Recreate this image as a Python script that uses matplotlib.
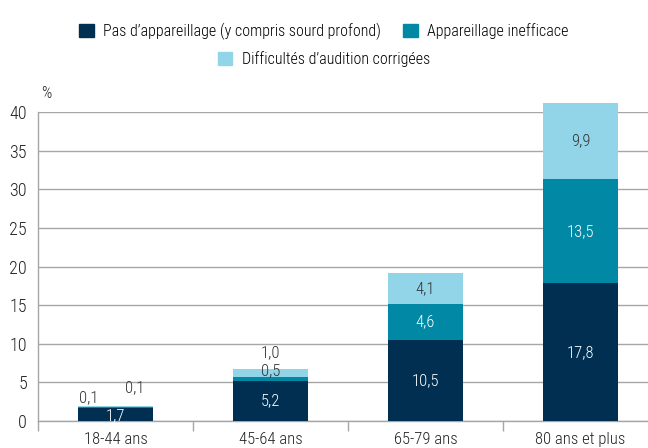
import numpy as np
import matplotlib.pyplot as plt
from matplotlib.patches import Patch
from matplotlib import font_manager

# Data
categories = ['18-44 ans', '45-64 ans', '65-79 ans', '80 ans et plus']
pas_appareillage = [1.7, 5.2, 10.5, 17.8]
appareillage_ineff = [0.1, 0.5, 4.6, 13.5]
difficultes_corr = [0.1, 1.0, 4.1, 9.9]
series_names = ["Pas d\u2019appareillage (y compris sourd profond)",
                "Appareillage inefficace",
                "Difficult\u00e9s d\u2019audition corrig\u00e9es"]

colors = ['#002f52', '#0088a5', '#93d5e8']
text_colors = ['white', 'white', '#333333']

# condensed font if one is installed, else plain Liberation Sans a bit smaller
installed = {f.name for f in font_manager.fontManager.ttflist}
narrow = [n for n in ['Liberation Sans Narrow', 'Roboto Condensed',
                      'Open Sans Condensed', 'DejaVu Sans Condensed']
          if n in installed]
if narrow:
    plt.rcParams['font.family'] = [narrow[0], 'DejaVu Sans']
    fs = 12
else:
    plt.rcParams['font.family'] = ['Liberation Sans', 'DejaVu Sans']
    fs = 10.5
if narrow and narrow[0] == 'DejaVu Sans Condensed':
    fs = 10.5
plt.rcParams['font.weight'] = 'light'

fig = plt.figure(figsize=(6.48, 4.48), dpi=100)
ax = fig.add_axes([38 / 648, 27 / 448, 620 / 648, 309 / 448])

x = np.arange(len(categories))
width = 0.48
series = [pas_appareillage, appareillage_ineff, difficultes_corr]
bottom = np.zeros(len(categories))
for vals, c, tc in zip(series, colors, text_colors):
    vals = np.array(vals)
    ax.bar(x, vals, width, bottom=bottom, color=c, clip_on=False, zorder=3)
    centers = bottom + vals / 2
    for i in range(len(x)):
        label = f"{vals[i]:.1f}".replace('.', ',')
        dx, dy, col = 0, 0, tc
        if vals[i] < 1.5:  # small segments: labels moved out of the bar
            col = '#333333'
            if i == 0:
                dx, dy = (-19, 7) if c == colors[1] else (14, 13.5)
            else:
                dy = 6 if c == colors[1] else 14.5
        if i == 0 and c == colors[0]:
            dy = -1
        ax.annotate(label, (x[i], centers[i]), xytext=(dx, dy),
                    textcoords='offset points', ha='center', va='center',
                    fontsize=fs, color=col, zorder=5)
    bottom = bottom + vals

ax.set_xlim(-0.5, 3.5)
ax.set_ylim(0, 40)
ax.set_yticks(np.arange(0, 41, 5))
ax.yaxis.grid(True, color='#a6a6a6', linewidth=1.0, zorder=0)
ax.set_axisbelow(True)
for s in ['top', 'right']:
    ax.spines[s].set_visible(False)
for s in ['left', 'bottom']:
    ax.spines[s].set_color('#a6a6a6')
    ax.spines[s].set_linewidth(1.0)
ax.tick_params(axis='y', length=0, labelsize=fs + 1, pad=8, labelcolor='#222222')
ax.set_xticks(x)
ax.set_xticklabels(categories)
ax.tick_params(axis='x', which='major', length=0, labelsize=fs, pad=8,
               labelcolor='#222222')
ax.set_xticks(np.arange(-0.5, 3.5, 1), minor=True)
ax.tick_params(axis='x', which='minor', length=7, color='#a6a6a6', width=1.0)

ax.text(0.005, 1.035, '%', transform=ax.transAxes, fontsize=fs - 0.5,
        color='#222222', ha='left', va='bottom')

handles = [Patch(color=c) for c in colors]
lfs = fs - 0.5
fig.legend(handles[:2], series_names[:2], ncol=2, loc='center',
           bbox_to_anchor=(0.5, 1 - 31 / 448), frameon=False,
           fontsize=lfs, handlelength=0.9, handleheight=0.9,
           handletextpad=0.6, columnspacing=1.4, borderpad=0)
fig.legend(handles[2:], series_names[2:], loc='center',
           bbox_to_anchor=(0.5, 1 - 59 / 448), frameon=False,
           fontsize=lfs, handlelength=0.9, handleheight=0.9,
           handletextpad=0.6, borderpad=0)

fig.savefig('out.png', dpi=100)
